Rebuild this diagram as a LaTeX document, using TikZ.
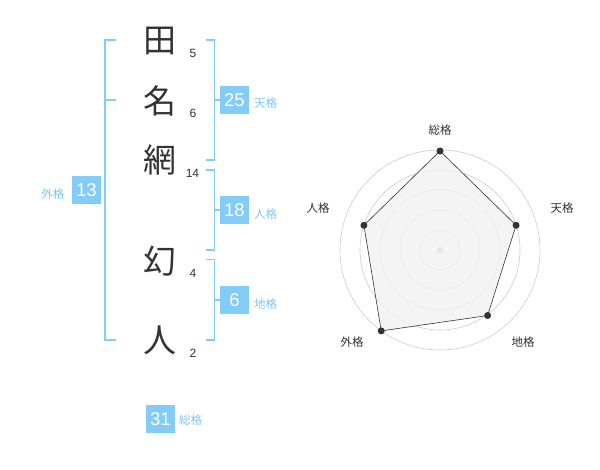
\documentclass[tikz,border=0pt]{standalone}
\usepackage{fontspec}
\setmainfont{Noto Sans CJK JP}
\newfontfamily\digits{Liberation Sans}
\definecolor{bl}{HTML}{82CCF7}
\definecolor{bltxt}{HTML}{7CC6F0}
\definecolor{ink}{HTML}{333333}
\definecolor{ringc}{HTML}{CCCCCC}
\definecolor{fillc}{HTML}{F1F1F1}
\begin{document}
\begin{tikzpicture}[x=1pt,y=-1pt,
  kanji/.style={font=\fontsize{33}{33}\selectfont, text=ink, inner sep=0pt},
  stroke/.style={font=\digits\fontsize{12}{12}\selectfont, text=ink, inner sep=0pt},
  brk/.style={draw=bl, line width=1.8pt},
  numbox/.style={fill=bl, text=white, font=\digits\fontsize{18.5}{18.5}\selectfont, minimum width=29pt, minimum height=28pt, inner sep=0pt},
  kaku/.style={text=bltxt, font=\fontsize{11.5}{11.5}\selectfont, inner sep=0pt},
  axlab/.style={text=ink, font=\fontsize{11.5}{11.5}\selectfont, inner sep=0pt},
  ring/.style={draw=ringc, line width=0.6pt},
  vdot/.style={circle, fill=ink, inner sep=0pt, minimum size=7pt}]
\useasboundingbox (0,0) rectangle (600,470);
\fill[white] (0,0) rectangle (600,470);
% name characters
\node[kanji] (k1) at (160,41) {田};
\node[kanji] (k2) at (160,101) {名};
\node[kanji] (k3) at (160,160) {網};
\node[kanji] (k4) at (160,261) {幻};
\node[kanji] (k5) at (160,340) {人};
\node[stroke] (s1) at (193,53.5) {5};
\node[stroke] (s2) at (193,113.5) {6};
\node[stroke] (s3) at (192.5,173.5) {14};
\node[stroke] (s4) at (193,273.5) {4};
\node[stroke] (s5) at (193,353.5) {2};
% right brackets
\draw[brk] (205.5,40) -- (214.5,40) -- (214.5,160) -- (205.5,160);
\draw[brk] (214.5,100) -- (220,100);
\draw[brk] (205.5,170) -- (214.5,170) -- (214.5,250) -- (205.5,250);
\draw[brk] (214.5,210) -- (220,210);
\draw[brk] (205.5,259.5) -- (214.5,259.5) -- (214.5,340) -- (205.5,340);
\draw[brk] (214.5,300) -- (220,300);
% left bracket
\draw[brk] (116,40) -- (105,40) -- (105,340) -- (116,340);
\draw[brk] (105,100) -- (116,100);
% boxes
\node[numbox] (ten) at (234.5,100.5) {25};
\node[kaku, anchor=west] (tenl) at (254,103) {天格};
\node[numbox] (jin) at (234.5,210.5) {18};
\node[kaku, anchor=west] (jinl) at (254,214) {人格};
\node[numbox] (chi) at (234.5,300.5) {6};
\node[kaku, anchor=west] (chil) at (254,304) {地格};
\node[numbox] (gai) at (86.5,190) {13};
\node[kaku] (gail) at (53,194) {外格};
\node[numbox] (sou) at (160.5,419) {31};
\node[kaku, anchor=west] (soul) at (179,420.5) {総格};
% radar
\coordinate (c) at (440,250);
\foreach \r in {20,40,60,80,100} \draw[ring] (c) circle[radius=\r];
\fill[ringc] (c) circle[radius=3.5];
\path (c) ++(-90:99) coordinate (pS)
      (c) ++(-18:80) coordinate (pT)
      (c) ++(54:81) coordinate (pC)
      (c) ++(126:100) coordinate (pG)
      (c) ++(-162:80) coordinate (pJ);
\filldraw[fill=fillc, fill opacity=0.75, draw=ink, line width=0.6pt] (pS) -- (pT) -- (pC) -- (pG) -- (pJ) -- cycle;
\foreach \p in {pS,pT,pC,pG,pJ} \node[vdot] at (\p) {};
\node[axlab] (lS) at (440,130) {総格};
\node[axlab] (lT) at (562,208) {天格};
\node[axlab] (lJ) at (318,208) {人格};
\node[axlab] (lC) at (523,342) {地格};
\node[axlab] (lG) at (352,342) {外格};
\end{tikzpicture}
\end{document}
